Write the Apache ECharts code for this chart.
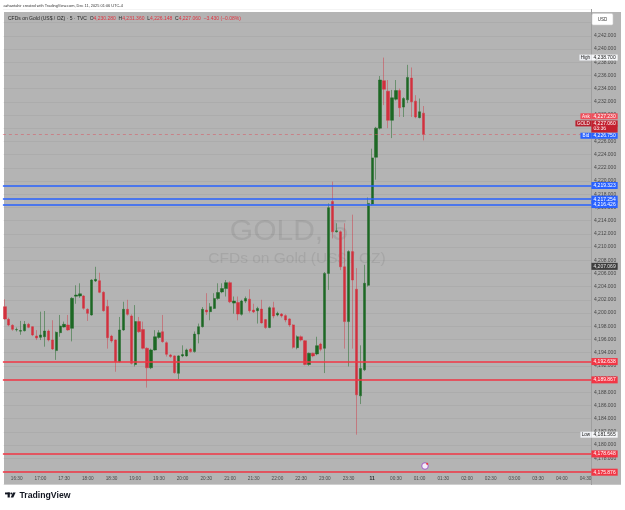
<!DOCTYPE html>
<html><head><meta charset="utf-8">
<script src="https://cdn.jsdelivr.net/npm/echarts@6/dist/echarts.min.js"></script>
<style>html,body{margin:0;padding:0;background:#fff}#c{width:625px;height:510px}</style>
</head><body><div id="c"></div>
<script>
// ---------- data ----------
const startTime = '16:15';      // first 5-minute bar
const barCount = 149;           // bars on the time scale (incl. future space)
const openPrices = [
 4200.96,4199.04,4198.13,4197.45,4197.25,4197.32,4198.28,4197.93,4196.52,4196.31,
 4196.41,4197.27,4195.91,4194.30,4197.02,4197.88,4198.18,4197.68,4202.55,4202.58,
 4202.58,4200.56,4199.70,4204.85,4204.90,4203.13,4201.00,4196.50,4195.90,4192.63,
 4197.43,4200.56,4199.55,4192.20,4198.70,4197.50,4194.65,4191.70,4194.40,4196.30,
 4197.17,4195.50,4193.64,4193.50,4190.86,4193.50,4193.50,4194.50,4194.15,4196.80,
 4197.93,4200.45,4200.20,4200.70,4202.20,4203.20,4203.70,4204.60,4201.50,4201.60,
 4199.80,4201.80,4202.10,4200.45,4200.35,4200.60,4199.00,4197.80,4200.80,4199.70,
 4199.85,4199.60,4199.10,4198.20,4194.75,4196.40,4195.80,4192.20,4193.90,4193.80,
 4195.30,4194.65,4206.00,4216.90,4212.30,4212.30,4207.00,4198.70,4209.30,4203.60,
 4187.45,4191.40,4204.20,4216.50,4223.60,4228.00,4235.20,4233.60,4229.20,4232.40,
 4233.70,4231.20,4232.30,4235.60,4232.10,4229.60,4230.28];
const closePrices = [
 4199.09,4198.18,4197.53,4197.50,4197.35,4198.28,4197.83,4196.67,4196.21,4196.67,
 4197.27,4195.91,4194.55,4197.07,4198.03,4198.28,4197.43,4202.22,4202.72,4202.90,
 4200.71,4199.95,4205.00,4205.10,4203.13,4200.35,4196.26,4195.76,4192.63,4197.43,
 4200.56,4199.80,4192.38,4198.70,4197.17,4194.65,4191.70,4194.40,4196.40,4197.00,
 4195.66,4193.74,4193.40,4190.96,4193.50,4193.70,4194.40,4194.15,4196.80,4197.93,
 4200.56,4200.15,4200.96,4202.20,4203.10,4203.70,4204.60,4201.70,4201.80,4199.85,
 4201.80,4202.20,4200.35,4200.15,4200.70,4198.50,4197.80,4200.80,4199.55,4199.95,
 4199.55,4198.94,4198.20,4194.80,4196.40,4195.90,4192.20,4193.90,4193.50,4195.05,
 4194.50,4206.00,4215.96,4212.30,4212.45,4207.00,4198.70,4209.30,4205.00,4187.60,
 4191.60,4204.50,4216.60,4223.50,4228.00,4235.30,4233.90,4229.20,4232.60,4233.70,
 4231.10,4232.50,4235.70,4232.00,4229.70,4230.49,4227.06];
const lowPrices = [
 4199.00,4198.00,4197.30,4197.20,4196.70,4197.20,4197.70,4196.50,4195.90,4195.90,
 4194.90,4195.70,4194.40,4192.90,4196.40,4197.80,4197.30,4195.70,4201.40,4202.30,
 4200.50,4198.80,4199.60,4204.70,4203.00,4200.20,4194.60,4195.50,4191.10,4192.50,
 4197.30,4199.60,4192.20,4191.90,4197.00,4194.50,4188.70,4191.50,4194.30,4196.10,
 4195.50,4193.40,4193.20,4190.80,4190.00,4193.30,4193.40,4194.00,4194.00,4195.40,
 4197.80,4199.70,4198.90,4200.60,4202.00,4203.00,4202.50,4201.50,4199.90,4198.90,
 4199.60,4201.50,4200.05,4200.00,4198.40,4198.40,4197.60,4197.70,4199.20,4199.50,
 4199.30,4198.60,4197.90,4194.60,4194.50,4195.70,4192.07,4192.00,4193.30,4193.60,
 4194.20,4190.90,4203.50,4211.30,4212.20,4206.50,4194.60,4191.90,4194.60,4181.565,
 4186.20,4191.20,4204.00,4216.30,4220.20,4227.80,4231.50,4228.00,4226.50,4232.20,
 4229.70,4229.70,4231.80,4229.70,4229.50,4229.50,4226.148];
const highPrices = [
 4202.07,4199.30,4198.30,4197.80,4198.80,4198.79,4198.50,4198.00,4197.40,4200.20,
 4200.30,4197.50,4198.90,4197.20,4199.70,4198.70,4199.70,4202.40,4204.20,4204.50,
 4202.70,4200.70,4205.10,4207.00,4206.10,4203.30,4202.00,4196.70,4196.00,4199.40,
 4201.70,4202.00,4199.80,4201.20,4199.40,4198.70,4194.80,4194.60,4197.40,4197.40,
 4199.70,4195.70,4193.80,4193.60,4193.60,4195.10,4194.60,4194.70,4197.20,4198.40,
 4200.90,4203.00,4201.50,4203.00,4204.50,4204.50,4205.00,4204.80,4202.50,4202.50,
 4202.00,4202.50,4203.60,4201.40,4200.95,4202.00,4199.10,4201.00,4201.70,4200.20,
 4200.00,4199.80,4199.20,4198.30,4196.60,4196.60,4195.90,4194.00,4194.00,4196.40,
 4195.50,4206.20,4216.60,4219.90,4213.60,4212.50,4213.60,4209.50,4214.90,4206.80,
 4195.10,4207.30,4217.50,4224.90,4228.20,4235.90,4238.70,4235.30,4233.80,4235.30,
 4234.00,4232.70,4237.60,4237.20,4233.00,4232.50,4231.36];
const blueLevels = [4219.323, 4217.254, 4216.426];
const redLevels = [4192.638, 4189.867, 4178.648, 4175.876];
const askPrice = 4227.230, bidPrice = 4226.750, lastPrice = 4227.060;
const dayHigh = 4238.700, dayLow = 4181.565, refLevel = 4207.069;
const countdown = '03:36';
const yMin = 4174, yMax = 4246, yStep = 2;

// ---------- build ----------
const FONT = '"Liberation Sans", Arial, sans-serif';
const GREEN = '#1d6824', RED = '#d2303d';
const BLUE = '#2962ff', LRED = '#f23645';
const BG = '#b4b4b4';
const fmt = v => Number(v).toLocaleString('en-US', {minimumFractionDigits: 3, maximumFractionDigits: 3});

const [sh, sm] = startTime.split(':').map(Number);
const categories = [];
for (let i = 0; i < barCount; i++) {
  const t = (sh * 60 + sm + 5 * i) % 1440;
  categories.push(String(Math.floor(t / 60)).padStart(2, '0') + ':' + String(t % 60).padStart(2, '0'));
}
const candles = openPrices.map((o, i) => [o, closePrices[i], lowPrices[i], highPrices[i]]);

function boxLabel(text, bg, fg, dy, w) {
  const l = {show: true, position: 'end', distance: 0, offset: [0, dy || 0],
    formatter: () => text, color: fg, backgroundColor: bg, padding: [0.5, 2, 0.5, 2],
    fontSize: 5, lineHeight: 6, fontFamily: FONT};
  if (w) { l.width = w; l.align = 'left'; }
  return l;
}
function tagLabel(tag, tagW, text, tagBg, valBg, fg, dy) {
  return {show: true, position: 'end', distance: 0, offset: [-(tagW + 2), dy || 0],
    formatter: () => '{t|' + tag + '}{v|' + text + '}',
    rich: {
      t: {backgroundColor: tagBg, color: fg, width: tagW, align: 'center', padding: [0.5, 1, 0.5, 1], fontSize: 4.6, lineHeight: 6, fontFamily: FONT},
      v: {backgroundColor: valBg, color: fg, padding: [0.5, 2, 0.5, 2], fontSize: 5, lineHeight: 6, fontFamily: FONT}
    }};
}
const hidden = {color: 'rgba(0,0,0,0)', width: 1, type: 'solid'};
const markData = [];
blueLevels.forEach(v => markData.push({yAxis: v, lineStyle: {color: BLUE, width: 1.6, type: 'solid'}, label: boxLabel(fmt(v), BLUE, '#fff')}));
redLevels.forEach(v => markData.push({yAxis: v, lineStyle: {color: LRED, width: 1.6, type: 'solid'}, label: boxLabel(fmt(v), LRED, '#fff')}));
markData.push({yAxis: refLevel, lineStyle: hidden, label: boxLabel(fmt(refLevel), '#3d3d3d', '#e6e6e6')});
markData.push({yAxis: dayHigh, lineStyle: hidden, label: tagLabel('High', 10, fmt(dayHigh), '#eef0f4', '#f5f6f8', '#222', 0)});
markData.push({yAxis: dayLow, lineStyle: hidden, label: tagLabel('Low', 9, fmt(dayLow), '#eef0f4', '#f5f6f8', '#222', 0)});
markData.push({yAxis: bidPrice, lineStyle: hidden, label: tagLabel('Bid', 9, fmt(bidPrice), BLUE, BLUE, '#fff', -0.7)});
markData.push({yAxis: askPrice, lineStyle: hidden, label: tagLabel('Ask', 9, fmt(askPrice), '#ef4f5b', '#ef4f5b', '#fff', -17)});
markData.push({yAxis: lastPrice, lineStyle: hidden, label: boxLabel(countdown, '#c4212f', '#fff', -5.4, 22.2)});
markData.push({yAxis: lastPrice, lineStyle: {color: 'rgba(215,90,100,0.55)', width: 1, type: [3, 3]},
  label: tagLabel('GOLD', 14, fmt(lastPrice), '#b71f2d', '#c4212f', '#fff', -11)});

const last = openPrices.length - 1;
const chg = closePrices[last] - closePrices[last - 1];
const pct = chg / closePrices[last - 1] * 100;
const minus = s => s.replace('-', '\u2212');
const headerText = 'CFDs on Gold (US$ / OZ) \u00b7 5 \u00b7 TVC  O{r|' + fmt(openPrices[last]) + '}  H{r|' + fmt(highPrices[last]) +
  '}  L{r|' + fmt(lowPrices[last]) + '}  C{r|' + fmt(closePrices[last]) + '}  {r|' + minus(chg.toFixed(3)) + ' (' + minus(pct.toFixed(2)) + '%)}';

const chart = echarts.init(document.getElementById('c'), null, {renderer: 'canvas'});
chart.setOption({
  animation: false,
  backgroundColor: '#ffffff',
  grid: {left: 2.875, right: 33.575, top: 9.4, bottom: 25.4, containLabel: false, outerBoundsMode: 'none'},
  xAxis: {
    type: 'category', data: categories, boundaryGap: true,
    axisLine: {show: false}, axisTick: {show: false}, splitLine: {show: false},
    axisLabel: {
      inside: true, margin: 3, fontSize: 4.7, color: '#4a4a4a', fontFamily: FONT,
      interval: (i, v) => v.endsWith(':00') || v.endsWith(':30'),
      formatter: v => v === '00:00' ? '{d|11}' : v,
      rich: {d: {fontWeight: 'bold', fontSize: 4.9, color: '#2a2a2a', fontFamily: FONT}}
    }
  },
  yAxis: {
    type: 'value', position: 'right', min: yMin, max: yMax, interval: yStep,
    axisLine: {show: true, lineStyle: {color: '#9e9e9e', width: 1}}, axisTick: {show: false},
    splitLine: {show: true, lineStyle: {color: 'rgba(0,0,0,0.045)', width: 1}},
    axisLabel: {margin: 2.5, fontSize: 5, color: '#474747', fontFamily: FONT,
      formatter: v => (v < yMin + 3.5 || v > yMax - 3.5) ? '' : fmt(v)}
  },
  series: [{
    type: 'candlestick', data: candles, barWidth: 2.8,
    itemStyle: {color: GREEN, color0: RED, borderColor: 'rgba(29,104,36,0.55)', borderColor0: 'rgba(210,48,61,0.5)', borderWidth: 0.9},
    markLine: {silent: true, symbol: ['none', 'none'], animation: false, data: markData}
  }],
  graphic: [
    {type: 'rect', z: -10, silent: true, shape: {x: 4, y: 12, width: 617, height: 472.5}, style: {fill: BG}},
    {type: 'rect', z: 1, silent: true, shape: {x: 592, y: 473.5, width: 29, height: 11}, style: {fill: BG}},
    {type: 'text', z: -5, silent: true, x: 289, y: 232, style: {text: 'GOLD, 5', fill: '#a6a6a6', font: '30px ' + FONT, textAlign: 'center', textVerticalAlign: 'middle'}},
    {type: 'text', z: -5, silent: true, x: 297, y: 259, style: {text: 'CFDs on Gold (US$ / OZ)', fill: '#a6a6a6', font: '15.5px ' + FONT, textAlign: 'center', textVerticalAlign: 'middle'}},
    {type: 'text', z: 50, silent: true, x: 3.5, y: 5.8, style: {text: 'azhantahir created with TradingView.com, Dec 11, 2025 01:06 UTC-4', fill: '#333', font: '3.9px ' + FONT, textVerticalAlign: 'middle'}},
    {type: 'text', z: 50, silent: true, x: 8, y: 19, style: {text: headerText, fill: '#262626', font: '5px ' + FONT, textVerticalAlign: 'middle',
      rich: {r: {fill: '#e0323f', font: '5px ' + FONT}}}},
    {type: 'rect', z: 50, silent: true, shape: {x: 592, y: 13.5, width: 21, height: 11.5, r: 1.5}, style: {fill: '#ffffff', stroke: '#cfcfcf', lineWidth: 0.6}},
    {type: 'text', z: 51, silent: true, x: 602.5, y: 19.3, style: {text: 'USD', fill: '#333', font: '4.5px ' + FONT, textAlign: 'center', textVerticalAlign: 'middle'}},
    {type: 'circle', z: 50, silent: true, shape: {cx: 425, cy: 466, r: 3.3}, style: {fill: '#f3ecf7', stroke: '#9b4fc4', lineWidth: 0.9}},
    {type: 'circle', z: 51, silent: true, shape: {cx: 427.2, cy: 463.8, r: 1.1}, style: {fill: '#f23645'}},
    {type: 'rect', z: 50, silent: true, shape: {x: 5, y: 492.5, width: 4.8, height: 1.9}, style: {fill: '#131722'}},
    {type: 'rect', z: 50, silent: true, shape: {x: 7.6, y: 492.5, width: 2.2, height: 5}, style: {fill: '#131722'}},
    {type: 'circle', z: 50, silent: true, shape: {cx: 11.3, cy: 493.5, r: 1}, style: {fill: '#131722'}},
    {type: 'polygon', z: 50, silent: true, shape: {points: [[13, 492.5], [15.6, 492.5], [13.3, 497.5], [10.7, 497.5]]}, style: {fill: '#131722'}},
    {type: 'text', z: 50, silent: true, x: 19.5, y: 495.2, style: {text: 'TradingView', fill: '#131722', font: 'bold 8.7px ' + FONT, textVerticalAlign: 'middle'}}
  ]
});
</script></body></html>
